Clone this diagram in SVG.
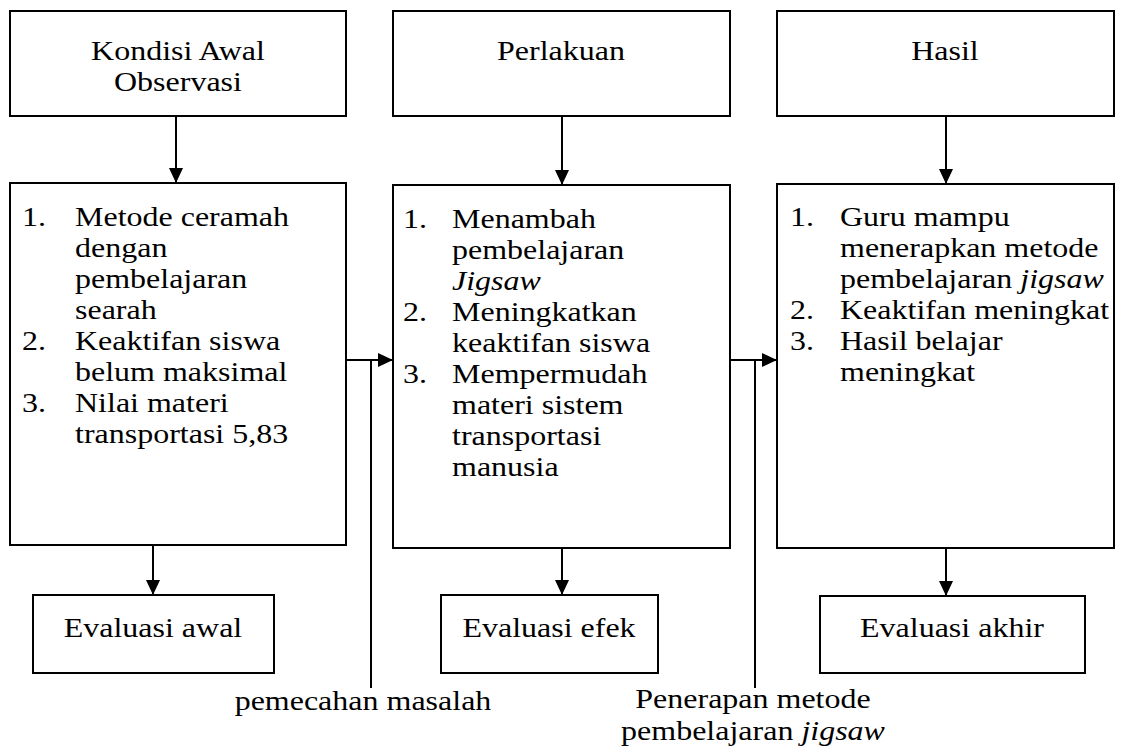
<svg xmlns="http://www.w3.org/2000/svg" width="1128" height="753" viewBox="0 0 1128 753">
<style>
.box{fill:#fff;stroke:#000;stroke-width:2}
.ln{fill:none;stroke:#000;stroke-width:2}
text{font-family:"Liberation Serif","Times New Roman",serif;font-size:27.5px;fill:#000}
.c{text-anchor:middle}
.i{font-style:italic}
</style>
<defs>
<marker id="ah" markerWidth="15" markerHeight="14" refX="15" refY="7" orient="auto" markerUnits="userSpaceOnUse">
<path d="M0,0 L15,7 L0,14 Z" fill="#000"/>
</marker>
</defs>
<rect width="1128" height="753" fill="#fff"/>
<g id="connectors">
<line class="ln" x1="176" y1="116" x2="176" y2="183" marker-end="url(#ah)"/>
<line class="ln" x1="562" y1="116" x2="562" y2="185" marker-end="url(#ah)"/>
<line class="ln" x1="946" y1="116" x2="946" y2="184" marker-end="url(#ah)"/>
<line class="ln" x1="153" y1="545" x2="153" y2="595" marker-end="url(#ah)"/>
<line class="ln" x1="562" y1="548" x2="562" y2="595" marker-end="url(#ah)"/>
<line class="ln" x1="946" y1="548" x2="946" y2="596" marker-end="url(#ah)"/>
<line class="ln" x1="346" y1="360" x2="393" y2="360" marker-end="url(#ah)"/>
<line class="ln" x1="371" y1="360" x2="371" y2="688"/>
<line class="ln" x1="730" y1="360" x2="777" y2="360" marker-end="url(#ah)"/>
<line class="ln" x1="755" y1="360" x2="755" y2="688"/>
</g>
<g id="kondisi">
<rect class="box" x="10" y="11" width="336" height="105"/>
<g transform="scale(1.16364 1)">
<text class="c" x="152.97" y="60">Kondisi Awal</text>
<text class="c" x="152.97" y="91">Observasi</text>
</g>
</g>
<g id="perlakuan">
<rect class="box" x="393" y="11" width="337" height="105"/>
<g transform="scale(1.16364 1)">
<text class="c" x="482.11" y="60">Perlakuan</text>
</g>
</g>
<g id="hasil">
<rect class="box" x="777" y="11" width="337" height="105"/>
<g transform="scale(1.16364 1)">
<text class="c" x="812.11" y="60">Hasil</text>
</g>
</g>
<g id="list1">
<rect class="box" x="10" y="183" width="336" height="362"/>
<g transform="scale(1.16364 1)">
<text x="18.91" y="226">1.</text><text x="64.45" y="226">Metode ceramah</text>
<text x="64.45" y="257">dengan</text>
<text x="64.45" y="288">pembelajaran</text>
<text x="64.45" y="319">searah</text>
<text x="18.91" y="350">2.</text><text x="64.45" y="350">Keaktifan siswa</text>
<text x="64.45" y="381">belum maksimal</text>
<text x="18.91" y="412">3.</text><text x="64.45" y="412">Nilai materi</text>
<text x="64.45" y="443">transportasi 5,83</text>
</g>
</g>
<g id="list2">
<rect class="box" x="393" y="185" width="337" height="363"/>
<g transform="scale(1.16364 1)">
<text x="346.33" y="228">1.</text><text x="388.44" y="228">Menambah</text>
<text x="388.44" y="259">pembelajaran</text>
<text x="388.44" y="290" class="i">Jigsaw</text>
<text x="346.33" y="321">2.</text><text x="388.44" y="321">Meningkatkan</text>
<text x="388.44" y="352">keaktifan siswa</text>
<text x="346.33" y="383">3.</text><text x="388.44" y="383">Mempermudah</text>
<text x="388.44" y="414">materi sistem</text>
<text x="388.44" y="445">transportasi</text>
<text x="388.44" y="476">manusia</text>
</g>
</g>
<g id="list3">
<rect class="box" x="777" y="184" width="337" height="364"/>
<g transform="scale(1.16364 1)">
<text x="678.91" y="226">1.</text><text x="721.88" y="226">Guru mampu</text>
<text x="721.88" y="257">menerapkan metode</text>
<text x="721.88" y="288">pembelajaran <tspan class="i">jigsaw</tspan></text>
<text x="678.91" y="319">2.</text><text x="721.88" y="319">Keaktifan meningkat</text>
<text x="678.91" y="350">3.</text><text x="721.88" y="350">Hasil belajar</text>
<text x="721.88" y="381">meningkat</text>
</g>
</g>
<g id="eval-awal">
<rect class="box" x="33" y="595" width="241" height="78"/>
<g transform="scale(1.16364 1)">
<text class="c" x="131.48" y="637">Evaluasi awal</text>
</g>
</g>
<g id="eval-efek">
<rect class="box" x="441" y="595" width="217" height="78"/>
<g transform="scale(1.16364 1)">
<text class="c" x="471.80" y="637">Evaluasi efek</text>
</g>
</g>
<g id="eval-akhir">
<rect class="box" x="820" y="596" width="265" height="77"/>
<g transform="scale(1.16364 1)">
<text class="c" x="818.13" y="637">Evaluasi akhir</text>
</g>
</g>
<g id="labels">
<g transform="scale(1.16364 1)">
<text class="c" x="311.95" y="710">pemecahan masalah</text>
<text class="c" x="647.12" y="708">Penerapan metode</text>
<text class="c" x="647.12" y="740">pembelajaran <tspan class="i">jigsaw</tspan></text>
</g>
</g>
</svg>
